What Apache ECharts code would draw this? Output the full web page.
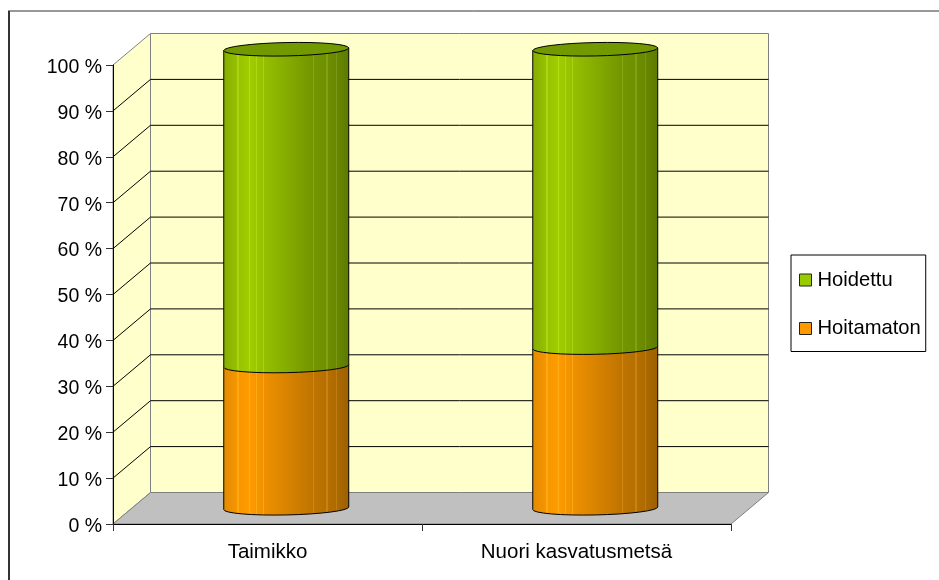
<!DOCTYPE html>
<html>
<head>
<meta charset="utf-8">
<style>html,body{margin:0;padding:0;background:#fff}#c{width:939px;height:580px}</style>
<script src="https://cdn.jsdelivr.net/npm/echarts@6/dist/echarts.min.js"></script>
</head>
<body>
<div id="c"></div>
<script>
const categories = ['Taimikko', 'Nuori kasvatusmetsä'];
const hoitamaton = [31, 35];
const hoidettu = [69, 65];
const yTicks = [0, 10, 20, 30, 40, 50, 60, 70, 80, 90, 100];

const FONT = '"Liberation Sans", Arial, sans-serif';
const DEPTH_X = 37.5, DEPTH_Y = 31.5, COL_RX = 62.5, COL_RY = 6.7, TILT = 1.2;
const stripes = [0.117, 0.21, 0.262, 0.317, 0.717, 0.824, 0.9];

function cylinderFill(stops) {
  // shaded column colours with the thin lighter strips of the original
  const out = [];
  const colorAt = (t) => {
    for (let i = 1; i < stops.length; i++) {
      if (t <= stops[i][0]) {
        const a = stops[i - 1], b = stops[i], k = (t - a[0]) / (b[0] - a[0]);
        return [0, 1, 2].map(j => Math.round(a[1][j] + (b[1][j] - a[1][j]) * k));
      }
    }
    return stops[stops.length - 1][1];
  };
  const css = (c) => 'rgb(' + c.join(',') + ')';
  const w = 0.005;
  let t = 0;
  stripes.forEach(s => {
    out.push({offset: t, color: css(colorAt(t))});
    out.push({offset: s - w, color: css(colorAt(s - w))});
    const c = colorAt(s).map(v => Math.min(255, v + 18));
    out.push({offset: s - w, color: css(c)});
    out.push({offset: s + w, color: css(c)});
    out.push({offset: s + w, color: css(colorAt(s + w))});
    t = s + w;
  });
  out.push({offset: 1, color: css(colorAt(1))});
  return {type: 'linear', x: 0, y: 0, x2: 1, y2: 0, colorStops: out};
}

const greenFill = cylinderFill([
  [0, [134, 172, 0]], [0.06, [146, 186, 0]], [0.2, [160, 206, 0]], [0.45, [136, 178, 0]],
  [0.62, [118, 154, 0]], [0.85, [110, 142, 0]], [1, [92, 122, 0]]
]);
const orangeFill = cylinderFill([
  [0, [226, 138, 0]], [0.06, [240, 146, 0]], [0.2, [255, 156, 0]], [0.45, [222, 134, 0]],
  [0.62, [198, 120, 0]], [0.85, [180, 110, 0]], [1, [156, 96, 0]]
]);
const TOP_COLOR = '#739900';

function renderWall(params, api) {
  const cs = params.coordSys;
  const v = api.value(1);
  const y = api.coord([0, v])[1];
  const L = cs.x, R = cs.x + cs.width, dx = DEPTH_X, dy = DEPTH_Y;
  const yTop = cs.y, yBot = cs.y + cs.height;
  const children = [];
  const GREY = '#808080', WALL = '#FFFFCC';
  if (params.dataIndex === 0) {
    children.push({type: 'polygon', shape: {points: [[L + dx, yTop - dy], [R + dx, yTop - dy], [R + dx, yBot - dy], [L + dx, yBot - dy]]},
      style: {fill: WALL, stroke: GREY, lineWidth: 1}});
    children.push({type: 'polygon', shape: {points: [[L, yBot], [L + dx, yBot - dy], [L + dx, yTop - dy], [L, yTop]]},
      style: {fill: WALL, stroke: GREY, lineWidth: 1}});
    children.push({type: 'polygon', shape: {points: [[L, yBot], [R, yBot], [R + dx, yBot - dy], [L + dx, yBot - dy]]},
      style: {fill: '#C0C0C0', stroke: GREY, lineWidth: 1}});
  }
  if (v > 0 && v < 100) {
    children.push({type: 'polyline', shape: {points: [[L, y], [L + dx, y - dy], [R + dx, y - dy]]},
      style: {fill: null, stroke: '#000', lineWidth: 1}});
  }
  return {type: 'group', children};
}

function arcPath(cx, cy) {
  const a = TILT * Math.PI / 180;
  return {lx: cx - COL_RX * Math.cos(a), ly: cy + COL_RX * Math.sin(a),
          rx: cx + COL_RX * Math.cos(a), ry: cy - COL_RX * Math.sin(a)};
}

function renderColumn(fill, isTop) {
  return function (params, api) {
    const cat = api.value(0), lo = api.value(1), hi = api.value(2);
    const p0 = api.coord([cat, lo]), p1 = api.coord([cat, hi]);
    const cx = p0[0] + DEPTH_X / 2;
    const yLo = p0[1] - DEPTH_Y / 2, yHi = p1[1] - DEPTH_Y / 2;
    const b = arcPath(cx, yLo), t = arcPath(cx, yHi);
    const arc = 'A' + COL_RX + ' ' + COL_RY + ' ' + (-TILT);
    const d = 'M' + t.lx + ' ' + t.ly + 'L' + b.lx + ' ' + b.ly +
      arc + ' 0 0 ' + b.rx + ' ' + b.ry +
      'L' + t.rx + ' ' + t.ry + 'Z';
    const bodyShape = {pathData: d, layout: 'none'};
    const children = [{type: 'path', shape: bodyShape, style: {fill: fill, stroke: '#000', lineWidth: 1}}];
    if (isTop) {
      const e = 'M' + t.lx + ' ' + t.ly + arc + ' 0 0 ' + t.rx + ' ' + t.ry + arc + ' 0 0 ' + t.lx + ' ' + t.ly + 'Z';
      children.push({type: 'path', shape: {pathData: e, layout: 'none'}, style: {fill: TOP_COLOR, stroke: '#000', lineWidth: 1}});
    }
    return {type: 'group', children};
  };
}

const chart = echarts.init(document.getElementById('c'), null, {renderer: 'canvas', width: 939, height: 580});
chart.setOption({
  animation: false,
  backgroundColor: '#fff',
  textStyle: {fontFamily: FONT},
  grid: {left: 113, top: 65, width: 618, height: 459, containLabel: false},
  xAxis: {
    type: 'category', data: categories, z: 5,
    axisLine: {lineStyle: {color: '#000', width: 1}},
    axisTick: {show: true, length: 7, lineStyle: {color: '#333'}},
    axisLabel: {color: '#000', fontSize: 20.5, fontFamily: FONT, margin: 18}
  },
  yAxis: {
    type: 'value', min: 0, max: 100, interval: 10, z: 5,
    axisLine: {show: true, lineStyle: {color: '#000', width: 1}},
    axisTick: {show: true, length: 7, lineStyle: {color: '#333'}},
    splitLine: {show: false},
    axisLabel: {
      color: '#000', fontSize: 19.5, fontFamily: FONT, margin: 11,
      formatter: (v) => '{a|' + v + ' %}',
      rich: {a: {color: '#000', fontSize: 19.5, fontFamily: FONT, padding: [5, 0, 0, 0]}}
    }
  },
  legend: {
    data: ['Hoidettu', 'Hoitamaton'],
    orient: 'vertical', left: 791, top: 255,
    padding: [15, 5, 13, 8],
    itemWidth: 12, itemHeight: 12, itemGap: 28.5,
    borderColor: '#000', borderWidth: 1,
    icon: 'rect',
    selectedMode: false,
    textStyle: {color: '#000', fontSize: 20.2, fontFamily: FONT, padding: [0, 0, 0, 1]},
    itemStyle: {borderColor: '#222', borderWidth: 1}
  },
  graphic: [
    {type: 'line', shape: {x1: 9, y1: 11, x2: 9, y2: 580}, style: {stroke: '#333', lineWidth: 2}, z: 10},
    {type: 'line', shape: {x1: 8, y1: 11, x2: 939, y2: 11}, style: {stroke: '#333', lineWidth: 1}, z: 10}
  ],
  series: [
    {type: 'custom', name: 'wall', coordinateSystem: 'cartesian2d', silent: true, z: 1,
      data: yTicks.map(v => [0, v]), encode: {x: 0, y: 1}, renderItem: renderWall, clip: false},
    {type: 'custom', name: 'Hoitamaton', coordinateSystem: 'cartesian2d', z: 2,
      itemStyle: {color: '#FF9900'},
      data: categories.map((c, i) => [i, 0, hoitamaton[i]]), encode: {x: 0, y: [1, 2]},
      renderItem: renderColumn(orangeFill, false), clip: false},
    {type: 'custom', name: 'Hoidettu', coordinateSystem: 'cartesian2d', z: 3,
      itemStyle: {color: '#99CC00'},
      data: categories.map((c, i) => [i, hoitamaton[i], hoitamaton[i] + hoidettu[i]]), encode: {x: 0, y: [1, 2]},
      renderItem: renderColumn(greenFill, true), clip: false}
  ]
});
</script>
</body>
</html>
